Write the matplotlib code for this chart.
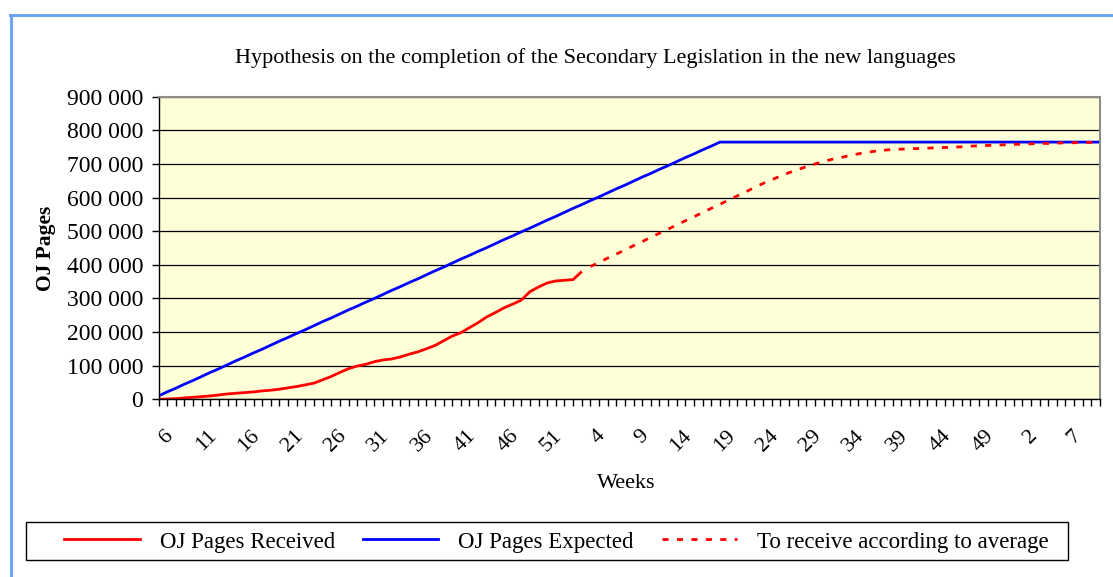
import matplotlib
matplotlib.use('Agg')
import matplotlib.pyplot as plt
import matplotlib.transforms as mtransforms
from matplotlib.lines import Line2D
from matplotlib.patches import Rectangle
from matplotlib.ticker import FuncFormatter, MultipleLocator

plt.rcParams['font.family'] = ['Liberation Serif', 'DejaVu Serif']

# week numbers on the category axis: year 1 wk 6..52, year 2 wk 1..52, year 3 wk 1..11
weeks = list(range(6, 53)) + list(range(1, 53)) + list(range(1, 12))

# OJ pages received (thousands), one value per week from the first category
received_k = [0, 1, 2, 4, 6, 8, 10, 13, 16, 18,
              20, 22, 25, 27, 30, 34, 38, 43, 48, 58,
              68, 80, 91, 99, 104, 112, 117, 120, 126, 134,
              141, 150, 160, 174, 188, 198, 213, 228, 245, 258,
              272, 283, 295, 320, 334, 346, 352, 354, 356, 380]

# OJ pages expected (thousands)
expected_k = [10, 22, 33, 45, 56, 68, 80, 91, 103, 115,
              126, 138, 149, 161, 173, 184, 196, 207, 219, 231,
              242, 254, 266, 277, 289, 300, 312, 324, 335, 347,
              358, 370, 382, 393, 405, 417, 428, 440, 451, 463,
              475, 486, 498, 509, 521, 533, 544, 556, 568, 579,
              591, 602, 614, 626, 637, 649, 661, 672, 684, 695,
              707, 719, 730, 742, 753, 765, 765, 765, 765, 765,
              765, 765, 765, 765, 765, 765, 765, 765, 765, 765,
              765, 765, 765, 765, 765, 765, 765, 765, 765, 765,
              765, 765, 765, 765, 765, 765, 765, 765, 765, 765,
              765, 765, 765, 765, 765, 765, 765, 765, 765, 765]

# projection at the average rate (thousands), starts after the last received week
to_receive_k = [395, 407, 420, 432, 444, 457, 469, 482, 494, 506,
                519, 531, 543, 556, 568, 580, 593, 605, 617, 630,
                642, 653, 664, 674, 683, 692, 700, 707, 714, 719,
                725, 730, 735, 738, 741, 743, 744, 745, 746, 747,
                748, 749, 750, 751, 753, 754, 755, 756, 757, 758,
                759, 760, 761, 761, 762, 763, 763, 764, 764, 765]

idx = list(range(len(weeks)))
rec_x = idx[:len(received_k)]
tor_x = idx[len(received_k):len(received_k) + len(to_receive_k)]

fig = plt.figure(figsize=(11.13, 5.77), dpi=100)
ax = fig.add_axes([158.5 / 1113, (577 - 399.3) / 577, 941.5 / 1113, 302.6 / 577])
ax.set_facecolor('#FFFFD7')

ax.plot(idx, [v * 1000 for v in expected_k], color='#0000FF', lw=2, solid_capstyle='butt')
ax.plot(rec_x, [v * 1000 for v in received_k], color='#FF0000', lw=2, solid_capstyle='butt')
ax.plot(tor_x, [v * 1000 for v in to_receive_k], color='#FF0000', lw=2,
        dashes=(2.2, 3.0), dash_capstyle='butt')

ax.set_xlim(0, len(weeks) - 1)
ax.set_ylim(0, 900000)
ax.yaxis.set_major_locator(MultipleLocator(100000))
ax.yaxis.set_major_formatter(FuncFormatter(lambda v, p: f"{int(v):,}".replace(",", " ")))
ax.yaxis.grid(True, color='black', lw=0.9)
ax.set_axisbelow(True)

ax.set_xticks(idx)
ax.set_xticklabels([])
# week labels every 5th category, rotated like the spreadsheet axis
lab_tr = ax.get_xaxis_transform() + mtransforms.ScaledTranslation(19 / 100, -27 / 100, fig.dpi_scale_trans)
for i, w in enumerate(weeks):
    if i % 5 == 0:
        ax.text(i, 0, str(w), transform=lab_tr, rotation=45, ha='right', va='top',
                fontsize=16, clip_on=False)

ax.tick_params(axis='x', direction='out', length=5, width=1)
ax.tick_params(axis='y', direction='out', length=5, width=1, pad=6, labelsize=17)

for s in ('top', 'right'):
    ax.spines[s].set_color('#8C8C8C')
    ax.spines[s].set_linewidth(1.5)
for s in ('left', 'bottom'):
    ax.spines[s].set_color('black')
    ax.spines[s].set_linewidth(1)

ax.set_ylabel('OJ Pages', fontsize=15.5, fontweight='bold')
ax.yaxis.set_label_coords(-102 / 941.5, 0.5)

fig.text(595 / 1113, 1 - 58 / 577, 'Hypothesis on the completion of the Secondary Legislation in the new languages',
         ha='center', va='center', fontsize=16)
fig.text(626 / 1113, 1 - 484 / 577, 'Weeks', ha='center', va='center', fontsize=16)

handles = [Line2D([], [], color='#FF0000', lw=2),
           Line2D([], [], color='#0000FF', lw=2),
           Line2D([], [], color='#FF0000', lw=2, dashes=(2.2, 3.0))]
fig.legend(handles, ['OJ Pages Received', 'OJ Pages Expected', 'To receive according to average'],
           loc='center', bbox_to_anchor=(556.5 / 1113, 1 - 542 / 577), ncol=3, fontsize=16.5,
           handlelength=3.3, handletextpad=0.87, columnspacing=1.22,
           frameon=False, borderpad=0, borderaxespad=0)
fig.add_artist(Rectangle((26 / 1113, (577 - 560) / 577), 1042 / 1113, 38 / 577,
                         transform=fig.transFigure, fill=False, edgecolor='black', lw=1))

# outer chart border (left and top only are visible in the frame)
fig.add_artist(Line2D([11 / 1113, 11 / 1113], [0, 1 - 15 / 577], transform=fig.transFigure,
                      color='#6CA6EE', lw=2.2))
fig.add_artist(Line2D([10 / 1113, 1], [1 - 15 / 577, 1 - 15 / 577], transform=fig.transFigure,
                      color='#6CA6EE', lw=2.2))

fig.savefig('out.png', dpi=100)
